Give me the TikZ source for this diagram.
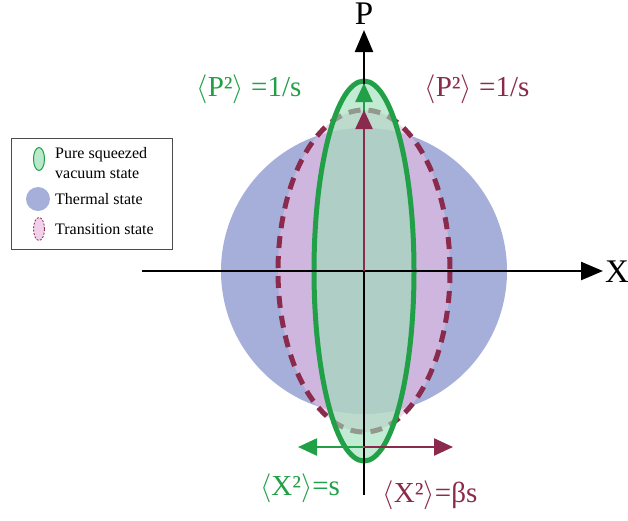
\RequirePackage{fix-cm}
\documentclass[tikz,border=0pt]{standalone}
\usepackage{fontspec}
\setmainfont{Liberation Serif}
\usetikzlibrary{arrows.meta, shapes.geometric}

\definecolor{sqgreen}{RGB}{34,160,72}
\definecolor{sqfill}{RGB}{155,222,184}
\definecolor{trmaroon}{RGB}{138,42,76}
\definecolor{trfill}{RGB}{235,188,226}
\definecolor{thblue}{RGB}{166,175,217}

\begin{document}
\begin{tikzpicture}[
		x=1pt, y=-1pt,
		font=\fontsize{29}{33}\selectfont,
		axis/.style={line width=2.4pt, -{Triangle[length=22pt, width=18pt]}},
		quad/.style={line width=2.4pt, -{Triangle[length=19pt, width=17pt]}},
		lbl/.style={inner sep=0pt},
		axlbl/.style={inner sep=0pt, font=\fontsize{33}{36}\selectfont},
		legtext/.style={font=\fontsize{16}{20}\selectfont, anchor=west, align=left, inner sep=0pt},
		legmark/.style={ellipse, inner sep=0pt, minimum width=11pt, minimum height=23pt}
	]
	\useasboundingbox (0,0) rectangle (628,520);

	% Origen y extremos de los ejes
	\coordinate (o) at (364,271);
	\coordinate (xl) at (142,271);
	\coordinate (xr) at (603,271);
	\coordinate (pb) at (364,495);
	\coordinate (pt) at (364,30);

	% Estados
	\fill[thblue] (o) circle[radius=143];
	\fill[trfill, fill opacity=0.6] (o) ellipse[x radius=86, y radius=161];
	\draw[trmaroon, line width=5pt, dash pattern=on 12pt off 8pt] (o) ellipse[x radius=86, y radius=161];
	\fill[sqfill, fill opacity=0.62] (o) ellipse[x radius=50, y radius=190];
	\draw[sqgreen, line width=5pt] (o) ellipse[x radius=50, y radius=190];

	% Ejes
	\draw[axis] (xl) -- (xr);
	\draw[axis] (pb) -- (pt);
	\node[axlbl] (xlab) at (617,272) {X};
	\node[axlbl] (plab) at (364,14) {P};

	% Varianzas
	\coordinate (pg) at (364,83);
	\coordinate (pm) at (364,110);
	\coordinate (xb) at (364,447);
	\coordinate (xg) at (298,447);
	\coordinate (xm) at (453,447);
	\draw[quad, sqgreen] (o) -- (pg);
	\draw[quad, trmaroon] (o) -- (pm);
	\draw[quad, sqgreen] (xb) -- (xg);
	\draw[quad, trmaroon] (xb) -- (xm);

	\node[lbl, text=sqgreen] (pglab) at (249,89) {$\big\langle$P²$\big\rangle$ =1/s};
	\node[lbl, text=trmaroon] (pmlab) at (477,89) {$\big\langle$P²$\big\rangle$ =1/s};
	\node[lbl, text=sqgreen] (xglab) at (300,488) {$\big\langle$X²$\big\rangle$=s};
	\node[lbl, text=trmaroon] (xmlab) at (430,495) {$\big\langle$X²$\big\rangle$=βs};

	% Leyenda
	\node[draw=gray!60!black, line width=0.8pt, minimum width=161pt, minimum height=111pt, inner sep=0pt] (legend) at (91.5,193.5) {};
	\node[legmark, draw=sqgreen, fill=sqfill!70, line width=1pt] (lgsq) at (39,159) {};
	\node[legtext] (lgsqt) at (55,163) {Pure squeezed\\vacuum state};
	\node[circle, fill=thblue, minimum size=24pt, inner sep=0pt] (lgth) at (38,199) {};
	\node[legtext] (lgtht) at (55,199) {Thermal state};
	\node[legmark, draw=trmaroon, fill=trfill!70, dash pattern=on 2pt off 1.5pt, line width=0.8pt] (lgtr) at (39,229) {};
	\node[legtext] (lgtrt) at (55,229) {Transition state};

\end{tikzpicture}
\end{document}
